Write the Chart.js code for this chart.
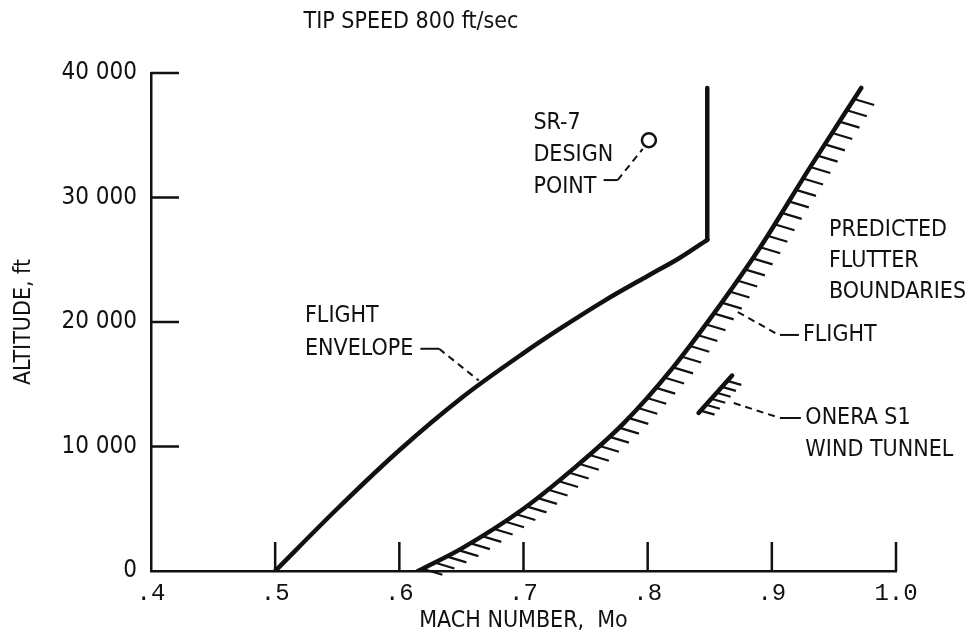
<!DOCTYPE html>
<html>
<head>
<meta charset="utf-8">
<script src="https://cdn.jsdelivr.net/npm/chart.js@4.4.1/dist/chart.umd.min.js"></script>
<style>
  body { margin: 0; background: #fff; }
  #wrap { width: 971px; height: 637px; }
</style>
</head>
<body>
<div id="wrap"><canvas id="flutter" width="971" height="637"></canvas></div>
<script>
// Axis ticks
const machTicks = [0.4, 0.5, 0.6, 0.7, 0.8, 0.9, 1.0];
const altTicks = [0, 10000, 20000, 30000, 40000];

// Flight envelope (curve, then the vertical ceiling at max Mach)
const envelopeMach = [0.5, 0.55, 0.6, 0.65, 0.7, 0.73, 0.765, 0.8, 0.825, 0.848];
const envelopeAlt = [0, 5000, 9700, 13900, 17500, 19500, 21700, 23700, 25100, 26600];
const ceilingMach = [0.848, 0.848];
const ceilingAlt = [26600, 38800];

// Predicted flutter boundary, flight
const flutterMach = [0.615, 0.65, 0.7, 0.74, 0.78, 0.82, 0.86, 0.89, 0.93, 0.972];
const flutterAlt = [0, 1800, 5000, 8200, 11800, 16300, 21600, 25900, 32300, 38800];

// Predicted flutter boundary, ONERA S1 wind tunnel
const tunnelMach = [0.841, 0.868];
const tunnelAlt = [12700, 15700];

// SR-7 design point
const designMach = [0.801];
const designAlt = [34600];

const ink = '#111';
const narrow = "'Liberation Sans Narrow', 'DejaVu Sans Condensed', 'Roboto', sans-serif";
const pairs = (xs, ys) => xs.map((v, i) => ({ x: v, y: ys[i] }));

// Text notes and leader lines, placed in data units
const notes = [
  { text: ['SR-7', 'DESIGN', 'POINT'], mach: 0.708, alt: 35980, gap: 32 },
  { text: ['FLIGHT', 'ENVELOPE'], mach: 0.524, alt: 20500, gap: 33 },
  { text: ['PREDICTED', 'FLUTTER', 'BOUNDARIES'], mach: 0.946, alt: 27390, gap: 31 },
  { text: ['FLIGHT'], mach: 0.925, alt: 18960, gap: 0 },
  { text: ['ONERA S1', 'WIND TUNNEL'], mach: 0.927, alt: 12290, gap: 32 }
];
const leaders = [
  { pts: [[0.7645, 31400], [0.7758, 31400]], dash: [] },
  { pts: [[0.7758, 31400], [0.796, 33900]], dash: [7, 5] },
  { pts: [[0.617, 17850], [0.632, 17850]], dash: [] },
  { pts: [[0.632, 17850], [0.664, 15300]], dash: [7, 5] },
  { pts: [[0.8726, 20800], [0.904, 19050]], dash: [7, 5] },
  { pts: [[0.9065, 18960], [0.9218, 18960]], dash: [] },
  { pts: [[0.8694, 13490], [0.904, 12370]], dash: [7, 5] },
  { pts: [[0.9065, 12290], [0.9234, 12290]], dash: [] }
];

// Short inward tick marks (the original draws them inside the frame)
const innerTicks = {
  id: 'innerTicks',
  afterDraw(chart) {
    const { ctx, chartArea: a, scales: { x, y } } = chart;
    ctx.save();
    ctx.strokeStyle = ink;
    ctx.lineWidth = 2.5;
    ctx.beginPath();
    machTicks.slice(1).forEach(v => {
      const px = x.getPixelForValue(v);
      ctx.moveTo(px, a.bottom); ctx.lineTo(px, a.bottom - 29);
    });
    altTicks.slice(1).forEach(v => {
      const py = y.getPixelForValue(v);
      ctx.moveTo(a.left, py); ctx.lineTo(a.left + 28, py);
    });
    ctx.stroke();
    ctx.restore();
  }
};

// Hatching on the stable side of the flutter boundaries
const hatch = {
  id: 'hatch',
  afterDatasetsDraw(chart) {
    const ctx = chart.ctx;
    chart.data.datasets.forEach((ds, i) => {
      if (!ds.hatch) return;
      const h = ds.hatch;
      const pts = chart.getDatasetMeta(i).data;
      ctx.save();
      ctx.strokeStyle = ink;
      ctx.lineWidth = 2.2;
      ctx.beginPath();
      let next = h.start, run = 0;
      for (let k = 1; k < pts.length; k++) {
        const p = pts[k - 1], q = pts[k];
        const len = Math.hypot(q.x - p.x, q.y - p.y);
        while (next <= run + len) {
          const t = (next - run) / len;
          const bx = p.x + (q.x - p.x) * t, by = p.y + (q.y - p.y) * t;
          ctx.moveTo(bx, by);
          ctx.lineTo(bx + h.dx, by + h.dy);
          next += h.step;
        }
        run += len;
      }
      ctx.stroke();
      ctx.restore();
    });
  }
};

const annotate = {
  id: 'annotate',
  afterDraw(chart) {
    const { ctx, scales: { x, y } } = chart;
    ctx.save();
    ctx.fillStyle = ink;
    ctx.strokeStyle = ink;
    ctx.textBaseline = 'middle';
    ctx.font = '23px ' + narrow;
    ctx.textAlign = 'center';
    ctx.fillText('TIP SPEED 800 ft/sec', 411, 22);
    ctx.textAlign = 'left';
    notes.forEach(n => {
      n.text.forEach((t, j) => {
        ctx.fillText(t, x.getPixelForValue(n.mach), y.getPixelForValue(n.alt) + j * n.gap);
      });
    });
    ctx.lineWidth = 2;
    leaders.forEach(l => {
      ctx.setLineDash(l.dash);
      ctx.beginPath();
      l.pts.forEach(([m, a], k) => {
        const px = x.getPixelForValue(m), py = y.getPixelForValue(a);
        k ? ctx.lineTo(px, py) : ctx.moveTo(px, py);
      });
      ctx.stroke();
    });
    ctx.restore();
  }
};

const lineStyle = {
  showLine: true,
  borderColor: ink,
  borderWidth: 4.5,
  pointRadius: 0,
  borderCapStyle: 'round',
  borderJoinStyle: 'round',
  fill: false
};

new Chart(document.getElementById('flutter'), {
  type: 'scatter',
  data: {
    datasets: [
      { ...lineStyle, label: 'Flight envelope', data: pairs(envelopeMach, envelopeAlt), cubicInterpolationMode: 'monotone' },
      { ...lineStyle, label: 'Envelope ceiling', data: pairs(ceilingMach, ceilingAlt) },
      { ...lineStyle, label: 'Flutter boundary, flight', data: pairs(flutterMach, flutterAlt),
        cubicInterpolationMode: 'monotone', hatch: { start: 5, step: 13.5, dx: 20, dy: 6 } },
      { ...lineStyle, label: 'Flutter boundary, ONERA S1', data: pairs(tunnelMach, tunnelAlt),
        hatch: { start: 3, step: 8, dx: 14, dy: 4 } },
      { label: 'SR-7 design point', data: pairs(designMach, designAlt), showLine: false,
        pointRadius: 7, pointStyle: 'circle', borderColor: ink, borderWidth: 2.5, backgroundColor: '#fff' }
    ]
  },
  options: {
    responsive: false,
    animation: false,
    devicePixelRatio: 1,
    layout: { padding: { left: 0, right: 75, top: 73, bottom: 0 } },
    plugins: { legend: { display: false }, tooltip: { enabled: false } },
    scales: {
      x: {
        type: 'linear',
        min: 0.4, max: 1.0,
        afterBuildTicks: s => { s.ticks = machTicks.map(v => ({ value: v })); },
        afterFit: s => { s.height = 66; },
        border: { display: true, color: ink, width: 2.5 },
        grid: { drawOnChartArea: false, drawTicks: false },
        ticks: {
          color: ink, padding: 8, maxRotation: 0, autoSkip: false,
          font: { family: "'Liberation Mono', 'DejaVu Sans Mono', monospace", size: 24 },
          callback: v => v >= 1 ? v.toFixed(1) : '.' + Math.round(v * 10)
        },
        title: { display: true, text: 'MACH NUMBER,  Mo', color: ink,
          font: { family: narrow, size: 23 }, padding: { top: 0, bottom: 2 } }
      },
      y: {
        type: 'linear',
        min: 0, max: 40000,
        afterBuildTicks: s => { s.ticks = altTicks.map(v => ({ value: v })); },
        afterFit: s => { s.width = 151; },
        border: { display: true, color: ink, width: 2.5 },
        grid: { drawOnChartArea: false, drawTicks: false },
        ticks: {
          color: ink, padding: 14,
          font: { family: narrow, size: 24 },
          callback: v => v === 0 ? '0' : (v / 1000) + ' 000'
        },
        title: { display: true, text: 'ALTITUDE, ft', color: ink,
          font: { family: narrow, size: 23 }, padding: { top: 10, bottom: 0 } }
      }
    }
  },
  plugins: [innerTicks, hatch, annotate]
});
</script>
</body>
</html>
